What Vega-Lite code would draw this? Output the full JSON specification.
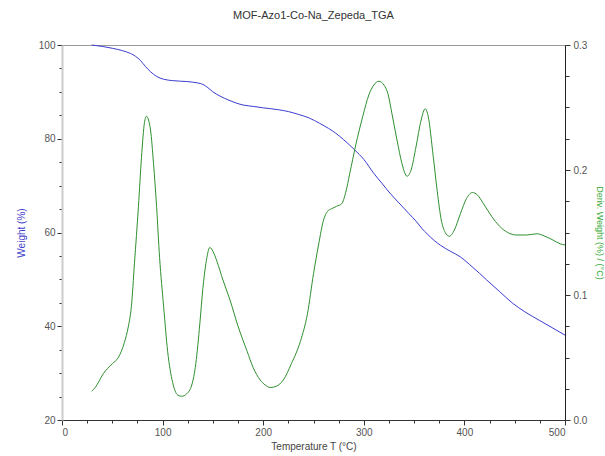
{
  "$schema": "https://vega.github.io/schema/vega-lite/v6.json",
  "width": 503,
  "height": 375,
  "autosize": {"type": "none"},
  "padding": {"left": 62, "top": 45, "right": 40, "bottom": 36},
  "background": "white",
  "title": {"text": "MOF-Azo1-Co-Na_Zepeda_TGA", "fontSize": 11, "font": "Liberation Sans", "fontWeight": "normal", "color": "#333333", "offset": 19, "anchor": "middle"},
  "config": {
    "view": {"stroke": "#999999", "strokeWidth": 1},
    "axis": {"labelFont": "Liberation Sans", "titleFont": "Liberation Sans", "labelFontSize": 10, "labelColor": "#555555", "titleFontWeight": "normal", "grid": false, "tickColor": "#333333", "domainColor": "#333333"}
  },
  "datasets": {
    "weight": [
      {"T": 29.5, "w": 100}, {"T": 40, "w": 99.7}, {"T": 50, "w": 99.3}, {"T": 60, "w": 98.8}, {"T": 68, "w": 98.2},
      {"T": 73, "w": 97.6}, {"T": 78, "w": 96.7}, {"T": 83, "w": 95.4}, {"T": 88, "w": 94.3}, {"T": 94, "w": 93.3},
      {"T": 101, "w": 92.7}, {"T": 110, "w": 92.4}, {"T": 124, "w": 92.2}, {"T": 135, "w": 91.9}, {"T": 140, "w": 91.6},
      {"T": 145, "w": 90.9}, {"T": 150, "w": 90.0}, {"T": 158, "w": 89.0}, {"T": 165, "w": 88.3}, {"T": 172, "w": 87.7},
      {"T": 180, "w": 87.2}, {"T": 190, "w": 86.9}, {"T": 200, "w": 86.6}, {"T": 215, "w": 86.2}, {"T": 225, "w": 85.8},
      {"T": 235, "w": 85.2}, {"T": 246, "w": 84.4}, {"T": 256, "w": 83.3}, {"T": 265, "w": 82.2}, {"T": 272, "w": 81.2},
      {"T": 280, "w": 79.8}, {"T": 291, "w": 77.6}, {"T": 300, "w": 75.6}, {"T": 310, "w": 72.6}, {"T": 318, "w": 70.5},
      {"T": 326, "w": 68.4}, {"T": 335, "w": 66.3}, {"T": 345, "w": 64.0}, {"T": 352, "w": 62.4}, {"T": 358, "w": 60.8},
      {"T": 363, "w": 59.7}, {"T": 370, "w": 58.3}, {"T": 376, "w": 57.3}, {"T": 386, "w": 56.0}, {"T": 396, "w": 54.8},
      {"T": 405, "w": 53.2}, {"T": 415, "w": 51.3}, {"T": 422, "w": 49.9}, {"T": 435, "w": 47.4}, {"T": 448, "w": 44.9},
      {"T": 460, "w": 43.1}, {"T": 475, "w": 41.2}, {"T": 488, "w": 39.6}, {"T": 500, "w": 38.1}
    ],
    "deriv": [
      {"T": 29.5, "d": 0.023}, {"T": 33, "d": 0.026}, {"T": 41, "d": 0.037}, {"T": 50, "d": 0.045}, {"T": 56, "d": 0.05},
      {"T": 62, "d": 0.062}, {"T": 66, "d": 0.075}, {"T": 69, "d": 0.091}, {"T": 72, "d": 0.125}, {"T": 76, "d": 0.171},
      {"T": 79, "d": 0.21}, {"T": 82, "d": 0.238}, {"T": 84, "d": 0.243}, {"T": 86, "d": 0.24}, {"T": 88, "d": 0.232},
      {"T": 91, "d": 0.205}, {"T": 94, "d": 0.171}, {"T": 97, "d": 0.13}, {"T": 101, "d": 0.091}, {"T": 105, "d": 0.055},
      {"T": 110, "d": 0.03}, {"T": 115, "d": 0.02}, {"T": 119, "d": 0.019}, {"T": 124, "d": 0.021}, {"T": 129, "d": 0.028},
      {"T": 133, "d": 0.045}, {"T": 137, "d": 0.077}, {"T": 140, "d": 0.105}, {"T": 143, "d": 0.125}, {"T": 147, "d": 0.138},
      {"T": 150, "d": 0.135}, {"T": 154, "d": 0.127}, {"T": 160, "d": 0.112}, {"T": 167, "d": 0.096}, {"T": 175, "d": 0.075},
      {"T": 184, "d": 0.055}, {"T": 190, "d": 0.042}, {"T": 197, "d": 0.032}, {"T": 202, "d": 0.028}, {"T": 207, "d": 0.026},
      {"T": 213, "d": 0.027}, {"T": 220, "d": 0.032}, {"T": 228, "d": 0.045}, {"T": 237, "d": 0.063}, {"T": 244, "d": 0.085},
      {"T": 250, "d": 0.117}, {"T": 255, "d": 0.14}, {"T": 260, "d": 0.16}, {"T": 264, "d": 0.167}, {"T": 268, "d": 0.169},
      {"T": 273, "d": 0.171}, {"T": 278, "d": 0.173}, {"T": 282, "d": 0.182}, {"T": 286, "d": 0.197}, {"T": 292, "d": 0.22},
      {"T": 299, "d": 0.243}, {"T": 305, "d": 0.26}, {"T": 310, "d": 0.268}, {"T": 315, "d": 0.271}, {"T": 320, "d": 0.268},
      {"T": 324, "d": 0.261}, {"T": 328, "d": 0.245}, {"T": 333, "d": 0.224}, {"T": 338, "d": 0.205}, {"T": 343, "d": 0.195},
      {"T": 347, "d": 0.2}, {"T": 352, "d": 0.219}, {"T": 357, "d": 0.24}, {"T": 361, "d": 0.249}, {"T": 364, "d": 0.243},
      {"T": 369, "d": 0.211}, {"T": 373, "d": 0.183}, {"T": 377, "d": 0.16}, {"T": 381, "d": 0.15}, {"T": 385, "d": 0.147},
      {"T": 390, "d": 0.152}, {"T": 396, "d": 0.165}, {"T": 402, "d": 0.177}, {"T": 408, "d": 0.182}, {"T": 413, "d": 0.18},
      {"T": 419, "d": 0.173}, {"T": 427, "d": 0.163}, {"T": 435, "d": 0.155}, {"T": 443, "d": 0.15}, {"T": 452, "d": 0.148},
      {"T": 462, "d": 0.148}, {"T": 472, "d": 0.149}, {"T": 480, "d": 0.147}, {"T": 488, "d": 0.144}, {"T": 495, "d": 0.141},
      {"T": 500, "d": 0.14}
    ]
  },
  "layer": [
    {
      "data": {"name": "weight"},
      "mark": {"type": "line", "opacity": 0},
      "encoding": {
        "x": {"field": "T", "type": "quantitative", "scale": {"domain": [0, 500], "nice": false},
              "axis": {"orient": "bottom", "values": [25, 50, 75, 125, 150, 175, 225, 250, 275, 325, 350, 375, 425, 450, 475], "labels": false, "domain": false, "title": null, "tickSize": 3}},
        "y": {"field": "w", "type": "quantitative", "scale": {"domain": [20, 100], "nice": false},
              "axis": {"orient": "left", "values": [25, 30, 35, 45, 50, 55, 65, 70, 75, 85, 90, 95], "labels": false, "domain": false, "title": null, "tickSize": 3}}
      }
    },
    {
      "data": {"name": "deriv"},
      "mark": {"type": "line", "opacity": 0},
      "encoding": {
        "x": {"field": "T", "type": "quantitative", "axis": null},
        "y": {"field": "d", "type": "quantitative", "scale": {"domain": [0, 0.3], "nice": false},
              "axis": {"orient": "right", "values": [0.025, 0.05, 0.075, 0.125, 0.15, 0.175, 0.225, 0.25, 0.275], "labels": false, "domain": false, "title": null, "tickSize": 4}}
      }
    },
    {
      "data": {"name": "weight"},
      "mark": {"type": "line", "color": "#3b3bd0", "strokeWidth": 1, "interpolate": "monotone"},
      "encoding": {
        "x": {"field": "T", "type": "quantitative",
              "axis": {"orient": "bottom", "values": [0, 100, 200, 300, 400, 500], "tickSize": 5, "labelPadding": 2, "title": "Temperature T (°C)", "titleFontSize": 10, "titleColor": "#444444", "titlePadding": 4, "domainColor": "#333333"}},
        "y": {"field": "w", "type": "quantitative", "scale": {"domain": [20, 100], "nice": false},
              "axis": {"orient": "left", "values": [20, 40, 60, 80, 100], "tickSize": 5, "labelPadding": 2, "title": "Weight (%)", "titleColor": "#4444cc", "titleFontSize": 10, "titlePadding": 12, "domainColor": "#cccccc", "domainWidth": 2}}
      }
    },
    {
      "data": {"name": "deriv"},
      "mark": {"type": "line", "color": "#2f8f2f", "strokeWidth": 1, "interpolate": "monotone"},
      "encoding": {
        "x": {"field": "T", "type": "quantitative", "axis": null},
        "y": {"field": "d", "type": "quantitative", "scale": {"domain": [0, 0.3], "nice": false},
              "axis": {"orient": "right", "values": [0, 0.1, 0.2, 0.3], "format": ".1f", "tickSize": 5, "labelPadding": 3, "title": "Deriv. Weight (%) / (°C)", "titleColor": "#33aa33", "titleFontSize": 9, "titlePadding": 8, "domainColor": "#222222"}}
      }
    }
  ],
  "resolve": {"scale": {"y": "independent"}, "axis": {"x": "independent", "y": "independent"}}
}
